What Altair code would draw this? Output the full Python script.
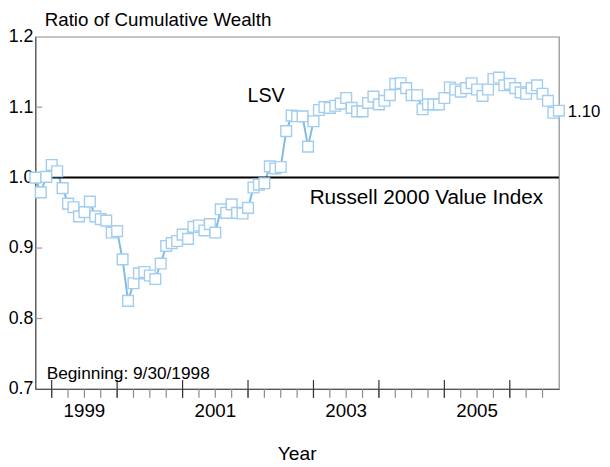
import altair as alt
import pandas as pd

# ---- data (monthly, month-end, starting 9/30/1998) ----
start_month = "1998-09"
lsv_ratio = [
    1.000, 0.979, 1.001, 1.018, 1.009, 0.985, 0.963, 0.958, 0.945, 0.951,
    0.966, 0.945, 0.941, 0.939, 0.922, 0.924, 0.884, 0.825, 0.850, 0.864,
    0.866, 0.861, 0.856, 0.878, 0.903, 0.907, 0.910, 0.919, 0.913, 0.930,
    0.932, 0.925, 0.934, 0.922, 0.955, 0.950, 0.962, 0.950, 0.949, 0.957,
    0.986, 0.990, 0.992, 1.016, 1.013, 1.015, 1.066, 1.088, 1.087, 1.087,
    1.044, 1.080, 1.096, 1.100, 1.099, 1.102, 1.105, 1.113, 1.099, 1.094,
    1.094, 1.106, 1.115, 1.104, 1.109, 1.117, 1.133, 1.134, 1.127, 1.117,
    1.117, 1.097, 1.104, 1.104, 1.104, 1.113, 1.128, 1.125, 1.122, 1.127,
    1.134, 1.125, 1.116, 1.125, 1.140, 1.142, 1.131, 1.133, 1.127, 1.121,
    1.119, 1.127, 1.131, 1.119, 1.109, 1.092, 1.095,
]
benchmark_level = [1.0]
year_ticks = [1999, 2000, 2001, 2002, 2003, 2004, 2005, 2006]
quarter_ticks = [1999.0, 1999.25, 1999.5, 1999.75, 2000.0, 2000.25, 2000.5, 2000.75,
                 2001.0, 2001.25, 2001.5, 2001.75, 2002.0, 2002.25, 2002.5, 2002.75,
                 2003.0, 2003.25, 2003.5, 2003.75, 2004.0, 2004.25, 2004.5, 2004.75,
                 2005.0, 2005.25, 2005.5, 2005.75, 2006.0, 2006.25, 2006.5]
year_labels = ["1999", "2001", "2003", "2005"]
year_label_pos = [1999.5, 2001.5, 2003.5, 2005.5]
inner_y_ticks = [0.8, 0.9, 1.1]
y_ticks = [0.7, 0.8, 0.9, 1.0, 1.1, 1.2]
x_domain = [1998.75, 2006.75]
y_domain = [0.7, 1.2]

FONT = "Liberation Sans"

periods = pd.period_range(start=start_month, periods=len(lsv_ratio), freq="M")
df = pd.DataFrame({
    "t": [p.year + p.month / 12 for p in periods],
    "ratio": lsv_ratio,
})
years_df = pd.DataFrame({"t": year_ticks})
quarters_df = pd.DataFrame({"t": quarter_ticks})
ylab_df = pd.DataFrame({"t": year_label_pos, "lab": year_labels})
inner_df = pd.DataFrame({"ratio": inner_y_ticks})
bench_df = pd.DataFrame({"ratio": benchmark_level})

W, H = 530.6, 357

x_scale = alt.Scale(domain=x_domain, nice=False, zero=False)
y_scale = alt.Scale(domain=y_domain, nice=False, zero=False)

x_axis = alt.Axis(
    ticks=False, labels=False, grid=False, title=None,
    domainColor="#555555", domainWidth=1.2,
)
y_axis = alt.Axis(
    values=y_ticks, format=".1f",
    ticks=False, labelPadding=2.5,
    grid=False, domainColor="#555555", domainWidth=1.2,
    labelFont=FONT, labelFontSize=18, labelColor="black",
    title=None,
)

base = alt.Chart(df)

line = base.mark_line(color="#80bbe5", strokeWidth=2).encode(
    x=alt.X("t:Q", scale=x_scale, axis=x_axis),
    y=alt.Y("ratio:Q", scale=y_scale, axis=y_axis),
)
points = base.mark_square(size=118, filled=True, fill="white", stroke="#a2cdef",
                          strokeWidth=1.4, opacity=1).encode(
    x="t:Q", y="ratio:Q",
)
bench = alt.Chart(bench_df).mark_rule(color="black", strokeWidth=2).encode(
    y="ratio:Q",
)
minor_ticks = alt.Chart(quarters_df).mark_rule(color="#8a8a8a", strokeWidth=1.2).encode(
    x="t:Q",
    y=alt.value(H), y2=alt.value(H + 9),
)
major_ticks = alt.Chart(years_df).mark_rule(color="#333333", strokeWidth=1.2).encode(
    x="t:Q",
    y=alt.value(H - 9), y2=alt.value(H + 9),
)
x_labels = alt.Chart(ylab_df).mark_text(
    font=FONT, fontSize=19, align="center", baseline="alphabetic", color="black"
).encode(x="t:Q", y=alt.value(H + 28), text="lab:N")
inner_ticks = alt.Chart(inner_df).mark_rule(color="#9a9a9a", strokeWidth=1.2).encode(
    y="ratio:Q",
    x=alt.value(0), x2=alt.value(7),
)

def label(text, x, y, size, align="left"):
    return alt.Chart(pd.DataFrame({"txt": [text]})).mark_text(
        font=FONT, fontSize=size, align=align, baseline="alphabetic", color="black"
    ).encode(text="txt:N", x=alt.value(x), y=alt.value(y))

title_label = label("Ratio of Cumulative Wealth", 9.5, -10.5, 19)
lsv_label = label("LSV", 215, 66.5, 20)
bench_label = label("Russell 2000 Value Index", 278, 169.5, 21)
end_label = label("1.10", 539.5, 81, 17)
begin_label = label("Beginning:  9/30/1998", 11.5, 347, 17.5)
year_title = label("Year", W / 2, 428.5, 19.5, align="center")

chart = alt.layer(
    line, bench, minor_ticks, major_ticks, x_labels, inner_ticks, points,
    title_label, lsv_label, bench_label, end_label, begin_label, year_title
).properties(
    width=W, height=H,
    autosize=alt.AutoSizeParams(type="none"),
    padding={"left": 27.7, "top": 26, "right": 43.7, "bottom": 76},
).configure_view(stroke="#8a8a8a", strokeWidth=1.2)

chart.save("out.html", embed_options={"renderer": "svg", "actions": False})
